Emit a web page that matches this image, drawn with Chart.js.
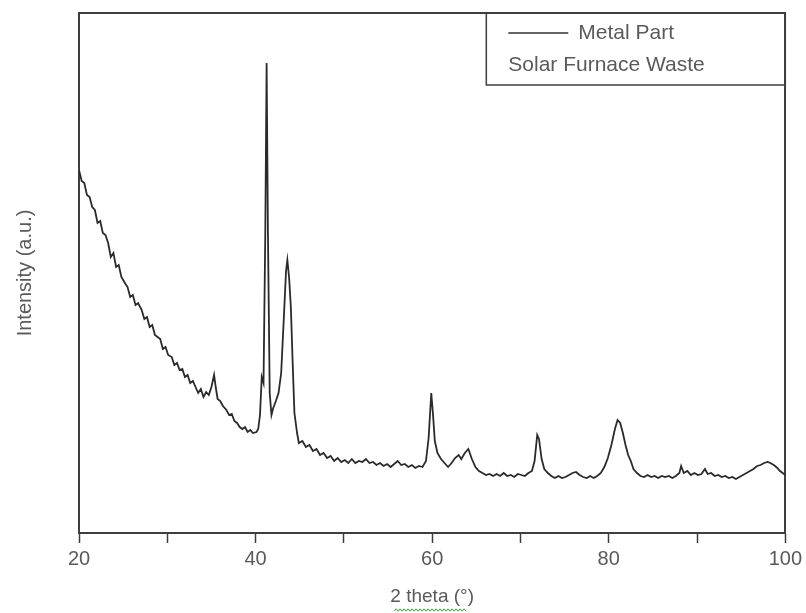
<!DOCTYPE html>
<html lang="en">

<head>
    <meta charset="UTF-8">
    <title>XRD</title>
    <style>
        body { margin: 0; background: #fff; }
    </style>
</head>

<body>
    <canvas id="myChart" width="806" height="613"></canvas>
</body>
<script src="https://cdn.jsdelivr.net/npm/chart.js"></script>
<script>
    // 2 theta (deg) and intensity (a.u.)
    const twoTheta = [
        20.0, 20.3, 20.6, 20.9, 21.2, 21.5, 21.8, 22.1, 22.4, 22.7, 23.0, 23.3, 23.6, 23.9, 24.2, 24.5, 24.8,
        25.2, 25.5, 25.8, 26.1, 26.4, 26.7, 27.1, 27.4, 27.7, 28.0, 28.3, 28.6, 28.9, 29.2, 29.5, 29.8,
        30.1, 30.5, 30.8, 31.1, 31.4, 31.7, 32.0, 32.3, 32.6, 32.9, 33.2, 33.5, 33.8, 34.1, 34.4, 34.7,
        35.0, 35.3, 35.5, 35.7, 36.0, 36.3, 36.7, 37.0, 37.3, 37.6, 37.9, 38.2, 38.5, 38.8, 39.1, 39.4, 39.7,
        40.1, 40.3, 40.5, 40.7, 40.9, 41.1, 41.25, 41.4, 41.6, 41.8, 42.0, 42.3, 42.6, 42.9, 43.2, 43.45, 43.6,
        43.8, 44.0, 44.2, 44.4, 44.7, 44.9, 45.3, 45.7, 46.1, 46.5, 46.9, 47.3, 47.7, 48.1, 48.5, 48.9, 49.3, 49.7,
        50.1, 50.5, 50.9, 51.3, 51.7, 52.1, 52.5, 52.9, 53.3, 53.7, 54.1, 54.5, 54.9, 55.3, 55.7, 56.1, 56.5, 56.9,
        57.3, 57.7, 58.1, 58.5, 58.9, 59.3, 59.6, 59.9, 60.1, 60.3, 60.6, 61.0, 61.4, 61.8, 62.2, 62.6, 63.0,
        63.3, 63.7, 64.1, 64.5, 64.9, 65.3, 65.7, 66.1, 66.5, 66.9, 67.3, 67.7, 68.1, 68.5, 68.9, 69.3, 69.7,
        70.1, 70.5, 70.9, 71.3, 71.6, 71.9, 72.1, 72.4, 72.7, 73.1, 73.5, 73.9, 74.3, 74.7, 75.1, 75.5, 75.9,
        76.3, 76.7, 77.1, 77.5, 77.9, 78.3, 78.7, 79.1, 79.5, 79.9, 80.3, 80.7, 81.0, 81.3, 81.6, 81.9, 82.2,
        82.5, 82.8, 83.2, 83.6, 84.0, 84.4, 84.8, 85.2, 85.6, 86.0, 86.4, 86.8, 87.2, 87.6, 88.0, 88.2, 88.5,
        88.9, 89.3, 89.7, 90.1, 90.5, 90.9, 91.2, 91.6, 92.0, 92.4, 92.8, 93.2, 93.6, 94.0, 94.4, 94.8, 95.2,
        95.6, 96.0, 96.4, 96.8, 97.2, 97.6, 98.0, 98.3, 98.7, 99.1, 99.4, 99.7, 100.0
    ];
    const intensity = [
        363, 352, 350, 338, 336, 326, 323, 310, 312, 300, 298, 290, 276, 280, 266, 268, 256,
        250, 246, 236, 238, 228, 230, 223, 214, 216, 206, 208, 198, 196, 194, 184, 186,
        178, 176, 168, 170, 163, 164, 156, 158, 150, 152, 146, 140, 144, 136, 141, 138,
        146, 158, 145, 134, 132, 127, 123, 118, 119, 112, 110, 106, 104, 106, 101, 103, 100,
        101, 104, 118, 156, 150, 300, 470, 300, 140, 118, 125, 132, 140, 160, 215, 262, 273,
        255, 225, 170, 120, 100, 90, 92, 86, 88, 82, 84, 78, 80, 75, 77, 72, 75, 71,
        73, 70, 74, 70, 72, 71, 74, 70, 71, 68, 70, 67, 69, 66, 69, 72, 68, 69,
        66, 68, 65, 67, 66, 72, 95, 140, 118, 92, 80, 74, 70, 66, 70, 75, 78,
        74, 80, 84, 74, 66, 62, 60, 58, 59, 57, 59, 57, 60, 57, 58, 56, 59,
        58, 57, 60, 62, 72, 98, 94, 74, 64, 60, 57, 55, 57, 55, 56, 58, 60,
        61, 58, 56, 55, 57, 55, 57, 60, 66, 75, 88, 104, 113, 110, 100, 88, 78,
        72, 64, 60, 57, 56, 58, 56, 57, 55, 57, 56, 57, 55, 57, 60, 67, 60,
        62, 58, 60, 58, 59, 64, 59, 60, 57, 58, 56, 57, 55, 56, 54, 56, 58,
        60, 62, 64, 67, 68, 70, 71, 70, 68, 65, 62, 60, 58
    ];
    const xTicks = [20, 30, 40, 50, 60, 70, 80, 90, 100];
    const xLabels = [20, 40, 60, 80, 100];
    const legendLines = ['Metal Part', 'Solar Furnace Waste'];

    const textColor = '#5a5a5a';
    const frameColor = '#3e3e3e';
    const fontFamily = '"Liberation Sans", Arial, sans-serif';

    // legend box in the top right corner of the plot
    const boxLegend = {
        id: 'boxLegend',
        afterDraw(chart) {
            const { ctx, chartArea } = chart;
            const w = 299, h = 72;
            const x0 = chartArea.right - w;
            const y0 = chartArea.top;
            ctx.save();
            ctx.strokeStyle = frameColor;
            ctx.lineWidth = 1.5;
            ctx.strokeRect(x0, y0, w, h);
            ctx.strokeStyle = '#333';
            ctx.beginPath();
            ctx.moveTo(x0 + 22, y0 + 20);
            ctx.lineTo(x0 + 82, y0 + 20);
            ctx.stroke();
            ctx.fillStyle = textColor;
            ctx.font = '21px ' + fontFamily;
            ctx.textBaseline = 'middle';
            ctx.fillText(legendLines[0], x0 + 92, y0 + 20);
            ctx.fillText(legendLines[1], x0 + 22, y0 + 52);
            ctx.restore();
        }
    };

    // the green spell-check squiggle under the x title
    const squiggle = {
        id: 'squiggle',
        afterDraw(chart) {
            const { ctx } = chart;
            const xs = chart.scales.x;
            const cx = (xs.left + xs.right) / 2;
            ctx.save();
            ctx.strokeStyle = '#3c9a3c';
            ctx.lineWidth = 1;
            ctx.beginPath();
            for (let i = 0; i <= 36; i++) {
                const px = cx - 38 + i * 2;
                const py = 610 + (i % 2 ? -1.2 : 1.2);
                i ? ctx.lineTo(px, py) : ctx.moveTo(px, py);
            }
            ctx.stroke();
            ctx.restore();
        }
    };

    const ctx = document.getElementById('myChart');
    new Chart(ctx, {
        type: 'line',
        data: {
            datasets: [{
                label: legendLines[0],
                data: twoTheta.map((t, i) => ({ x: t, y: intensity[i] })),
                borderColor: '#2a2a2a',
                borderWidth: 1.8,
                pointRadius: 0,
                tension: 0
            }]
        },
        options: {
            responsive: false,
            animation: false,
            layout: { padding: { top: 13, right: 18, left: 0, bottom: 0 } },
            plugins: {
                legend: { display: false },
                tooltip: { enabled: false }
            },
            scales: {
                x: {
                    type: 'linear',
                    min: 20,
                    max: 100,
                    afterFit: s => { s.height = 80; },
                    afterBuildTicks: s => { s.ticks = xTicks.map(v => ({ value: v })); },
                    grid: { drawOnChartArea: false, tickLength: 10, tickColor: frameColor, tickWidth: 1.5 },
                    border: { color: frameColor, width: 2 },
                    ticks: {
                        color: textColor,
                        padding: 4,
                        maxRotation: 0,
                        autoSkip: false,
                        callback: v => xLabels.includes(v) ? v : '',
                        font: { family: fontFamily, size: 20 }
                    },
                    title: {
                        display: true,
                        text: '2 theta (°)',
                        color: textColor,
                        padding: { top: 5, bottom: 5 },
                        font: { family: fontFamily, size: 19 }
                    }
                },
                xTop: {
                    type: 'linear',
                    position: 'top',
                    min: 20,
                    max: 100,
                    afterFit: s => { s.height = 0; },
                    grid: { display: false },
                    ticks: { display: false },
                    border: { color: frameColor, width: 2 }
                },
                y: {
                    min: 0,
                    max: 520,
                    afterFit: s => { s.width = 79; },
                    grid: { display: false },
                    ticks: { display: false },
                    border: { color: frameColor, width: 2 },
                    title: {
                        display: true,
                        text: 'Intensity (a.u.)',
                        color: textColor,
                        padding: { top: 13, bottom: 0 },
                        font: { family: fontFamily, size: 20 }
                    }
                },
                yRight: {
                    position: 'right',
                    min: 0,
                    max: 520,
                    afterFit: s => { s.width = 0; },
                    grid: { display: false },
                    ticks: { display: false },
                    border: { color: frameColor, width: 2 }
                }
            }
        },
        plugins: [boxLegend, squiggle]
    });
</script>

</html>
